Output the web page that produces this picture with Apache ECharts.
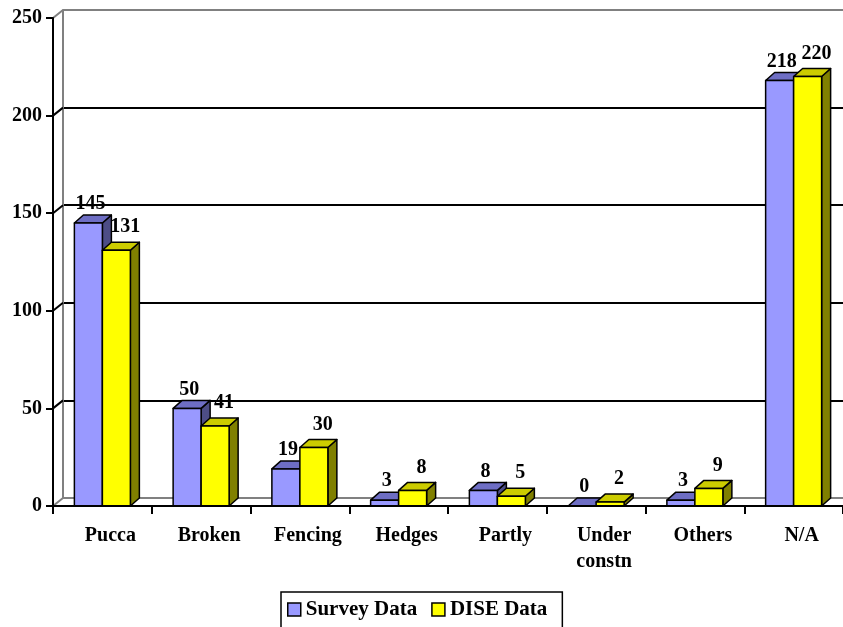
<!DOCTYPE html>
<html>
<head>
<meta charset="utf-8">
<style>html,body{margin:0;padding:0;background:#fff}#c{width:843px;height:627px}</style>
<script src="https://cdn.jsdelivr.net/npm/echarts@6/dist/echarts.min.js"></script>
</head>
<body>
<div id="c"></div>
<script>
const categories = ['Pucca', 'Broken', 'Fencing', 'Hedges', 'Partly', 'Under\nconstn', 'Others', 'N/A'];
const surveyData = [145, 50, 19, 3, 8, 0, 3, 218];
const diseData = [131, 41, 30, 8, 5, 2, 9, 220];
const yTicks = [0, 50, 100, 150, 200, 250];

const FONT = 'bold 20px "Liberation Serif", "Times New Roman", serif';
const DX = 9, DY = 8;          // bar depth
const WX = 10, WY = 8;         // wall depth
const GRAY = '#808080';

const styles = [
  { front: '#9999FF', top: '#6E6EC4', side: '#4D4D86', lx: 2, ly: -19 },
  { front: '#FFFF00', top: '#CCCC00', side: '#808000', lx: 9, ly: -23 }
];

function barRender(s) {
  return function (params, api) {
    const cat = api.value(0), val = api.value(1);
    const base = api.coord([cat, 0]);
    const top = api.coord([cat, val]);
    const band = api.size([1, 0])[0];
    const w = band * 0.2835;
    const x0 = s === 0 ? base[0] - w : base[0];
    const ty = top[1], by = base[1];
    const st = styles[s];
    const line = { stroke: '#000', lineWidth: 1.5, lineJoin: 'round' };
    return {
      type: 'group',
      children: [
        { type: 'polygon', shape: { points: [[x0 + w, ty], [x0 + w + DX, ty - DY], [x0 + w + DX, by - DY], [x0 + w, by]] },
          style: Object.assign({ fill: st.side }, line) },
        { type: 'polygon', shape: { points: [[x0, ty], [x0 + DX, ty - DY], [x0 + w + DX, ty - DY], [x0 + w, ty]] },
          style: Object.assign({ fill: st.top }, line) },
        { type: 'rect', shape: { x: x0, y: ty, width: w, height: by - ty },
          style: Object.assign({ fill: st.front }, line) },
        { type: 'text', z2: 100, style: { text: String(val), x: x0 + w / 2 + st.lx, y: ty + st.ly,
          font: FONT, fill: '#000', align: 'center', verticalAlign: 'middle' } }
      ]
    };
  };
}

function wallRender(params, api) {
  const v = api.value(1);
  const p = api.coord([0, v]);
  const x0 = params.coordSys.x;
  const gray = (v === yTicks[0] || v === yTicks[yTicks.length - 1]);
  return {
    type: 'line',
    shape: { x1: x0, y1: p[1], x2: x0 + WX, y2: p[1] - WY },
    style: { stroke: gray ? GRAY : '#000', lineWidth: 2 }
  };
}

const chart = echarts.init(document.getElementById('c'), null, { renderer: 'canvas' });
chart.setOption({
  animation: false,
  backgroundColor: '#fff',
  grid: [
    { left: 53, right: 0, top: 18, bottom: 121 },
    { left: 63, right: 0, top: 10, bottom: 129 }
  ],
  xAxis: [
    { type: 'category', gridIndex: 0, data: categories,
      axisLine: { lineStyle: { color: '#000', width: 2 } },
      axisTick: { show: true, length: 8, lineStyle: { color: '#000', width: 2 } },
      axisLabel: { interval: 0, margin: 17, color: '#000', fontFamily: '"Liberation Serif", serif', fontWeight: 'bold',
        fontSize: 20, lineHeight: 26, padding: [0, 0, 0, 16] },
      splitLine: { show: false }, z: 5 },
    { type: 'category', gridIndex: 1, data: categories, show: false }
  ],
  yAxis: [
    { type: 'value', gridIndex: 0, min: 0, max: 250, interval: 50,
      axisLine: { show: true, lineStyle: { color: '#000', width: 2 } },
      axisTick: { show: true, length: 7, lineStyle: { color: '#000', width: 2 } },
      axisLabel: { margin: 11, color: '#000', fontFamily: '"Liberation Serif", serif', fontWeight: 'bold', fontSize: 20 },
      splitLine: { show: false }, z: 5 },
    { type: 'value', gridIndex: 1, min: 0, max: 250, interval: 50,
      axisLine: { show: true, lineStyle: { color: GRAY, width: 2 } },
      axisTick: { show: false }, axisLabel: { show: false },
      splitLine: { show: true, lineStyle: { color: [GRAY, '#000', '#000', '#000', '#000', GRAY], width: 2 } } }
  ],
  legend: {
    data: ['Survey Data', 'DISE Data'],
    left: 281, top: 592,
    padding: [7, 15, 30, 6],
    borderColor: '#000', borderWidth: 1.5,
    itemWidth: 13, itemHeight: 13, itemGap: 14,
    icon: 'rect',
    itemStyle: { borderColor: '#000', borderWidth: 1.5 },
    textStyle: { color: '#000', fontFamily: '"Liberation Serif", serif', fontWeight: 'bold', fontSize: 21 }
  },
  series: [
    { type: 'custom', name: 'walls', xAxisIndex: 0, yAxisIndex: 0, silent: true, z: 1,
      data: yTicks.map(v => [0, v]), renderItem: wallRender },
    { type: 'custom', name: 'Survey Data', xAxisIndex: 0, yAxisIndex: 0, z: 3,
      itemStyle: { color: styles[0].front },
      data: surveyData.map((v, i) => [i, v]), renderItem: barRender(0) },
    { type: 'custom', name: 'DISE Data', xAxisIndex: 0, yAxisIndex: 0, z: 4,
      itemStyle: { color: styles[1].front },
      data: diseData.map((v, i) => [i, v]), renderItem: barRender(1) }
  ]
});
</script>
</body>
</html>
